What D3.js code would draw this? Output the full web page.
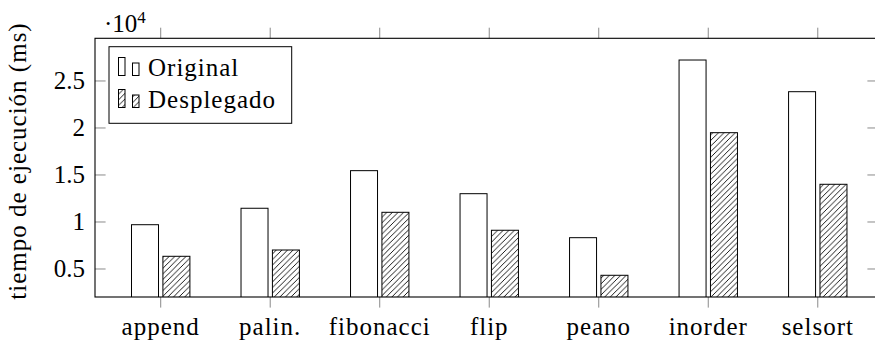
<!DOCTYPE html>
<html>
<head>
<meta charset="utf-8">
<script src="https://cdn.jsdelivr.net/npm/d3@7"></script>
<style>
  html, body { margin: 0; padding: 0; background: #fff; }
  svg { display: block; }
</style>
</head>
<body>
<svg id="chart" width="875" height="342"></svg>
<script>
// Execution time per benchmark (ms)
const categories = ["append", "palin.", "fibonacci", "flip", "peano", "inorder", "selsort"];
const original   = [9710, 11460, 15460, 13010, 8330, 27230, 23860];
const desplegado = [6350, 7020, 11030, 9120, 4330, 19500, 14010];
const seriesNames = ["Original", "Desplegado"];
const yTickValues = [5000, 10000, 15000, 20000, 25000];
const yTickLabels = ["0.5", "1", "1.5", "2", "2.5"];
const yLabel = "tiempo de ejecución (ms)";

(function () {
  const plotL = 95, plotR = 878, plotT = 38.3, plotB = 297;
  const fontSize = 25;
  const tickLen = 10.6;
  const barW = 27, barShift = 15.7;
  const serif = '"Liberation Serif"';

  const svg = d3.select("#chart");

  // labels go straight onto the svg, serif face set on each one
  const addText = () => svg.append("text")
    .style("font-family", serif, "important")
    .style("font-size", fontSize + "px", "important")
    .style("fill", "#000");

  // hatch pattern for the second series
  const defs = svg.append("defs");
  const pat = defs.append("pattern")
    .attr("id", "hatch")
    .attr("patternUnits", "userSpaceOnUse")
    .attr("width", 5.6).attr("height", 5.6);
  pat.append("rect").attr("width", 5.6).attr("height", 5.6).attr("fill", "#fff");
  pat.append("path")
    .attr("d", "M-1,1 L1,-1 M0,5.6 L5.6,0 M4.6,6.6 L6.6,4.6")
    .attr("stroke", "#000").attr("stroke-width", 0.9);

  const x = d3.scaleLinear().domain([-0.6, 6.55]).range([plotL, plotR]);
  const y = d3.scaleLinear().domain([2020, 29540]).range([plotB, plotT]);

  // clip bars to the axis area
  defs.append("clipPath").attr("id", "plotclip")
    .append("rect").attr("x", plotL).attr("y", plotT).attr("width", plotR - plotL).attr("height", plotB - plotT);

  const bars = svg.append("g").attr("clip-path", "url(#plotclip)");
  categories.forEach((c, i) => {
    const cx = x(i);
    bars.append("rect")
      .attr("x", cx - barShift - barW / 2)
      .attr("y", y(original[i]))
      .attr("width", barW)
      .attr("height", y.range()[0] - y(original[i]) + 2)
      .attr("fill", "#fff").attr("stroke", "#000").attr("stroke-width", 1);
    bars.append("rect")
      .attr("x", cx + barShift - barW / 2)
      .attr("y", y(desplegado[i]))
      .attr("width", barW)
      .attr("height", y.range()[0] - y(desplegado[i]) + 2)
      .attr("fill", "url(#hatch)").attr("stroke", "#000").attr("stroke-width", 1);
  });

  // ticks (gray): y ticks inside on both sides, x ticks outside top and bottom
  const ticks = svg.append("g").attr("stroke", "#8a8a8a").attr("stroke-width", 1);
  yTickValues.forEach(v => {
    ticks.append("line").attr("x1", plotL).attr("x2", plotL + tickLen).attr("y1", y(v)).attr("y2", y(v));
    ticks.append("line").attr("x1", plotR).attr("x2", plotR - tickLen).attr("y1", y(v)).attr("y2", y(v));
  });
  categories.forEach((c, i) => {
    ticks.append("line").attr("x1", x(i)).attr("x2", x(i)).attr("y1", plotB).attr("y2", plotB + tickLen);
    ticks.append("line").attr("x1", x(i)).attr("x2", x(i)).attr("y1", plotT).attr("y2", plotT - tickLen);
  });

  // frame
  svg.append("rect")
    .attr("x", plotL).attr("y", plotT).attr("width", plotR - plotL).attr("height", plotB - plotT)
    .attr("fill", "none").attr("stroke", "#000").attr("stroke-width", 1.1);

  // y tick labels
  yTickValues.forEach((v, k) => {
    addText()
      .attr("x", plotL - 10).attr("y", y(v) + 8.5)
      .attr("text-anchor", "end")
      .text(yTickLabels[k]);
  });

  // x tick labels
  categories.forEach((c, i) => {
    addText()
      .attr("x", x(i)).attr("y", 335)
      .attr("text-anchor", "middle")
      .style("letter-spacing", "1px")
      .text(c);
  });

  // scale factor
  const sf = addText().attr("x", 104).attr("y", 32);
  sf.append("tspan").text("·10");
  sf.append("tspan").attr("dy", -9).style("font-size", "17px", "important").text("4");

  // y axis label
  addText()
    .attr("transform", `translate(26, 161) rotate(-90)`)
    .attr("text-anchor", "middle")
    .style("letter-spacing", "1px")
    .text(yLabel);

  // legend
  svg.append("rect")
    .attr("x", 109).attr("y", 46.7).attr("width", 182.7).attr("height", 76.6)
    .attr("fill", "#fff").attr("stroke", "#000").attr("stroke-width", 1);
  const rows = [75.5, 107.5];
  seriesNames.forEach((name, k) => {
    const base = rows[k];
    const fill = k === 0 ? "#fff" : "url(#hatch)";
    svg.append("rect").attr("x", 118.5).attr("y", base - 18).attr("width", 6.5).attr("height", 18)
      .attr("fill", fill).attr("stroke", "#000").attr("stroke-width", 1);
    svg.append("rect").attr("x", 132.5).attr("y", base - 12.5).attr("width", 6.5).attr("height", 12.5)
      .attr("fill", fill).attr("stroke", "#000").attr("stroke-width", 1);
    addText().attr("x", 148).attr("y", base + 0.5)
      .style("letter-spacing", "1px")
      .text(name);
  });
})();
</script>
</body>
</html>
